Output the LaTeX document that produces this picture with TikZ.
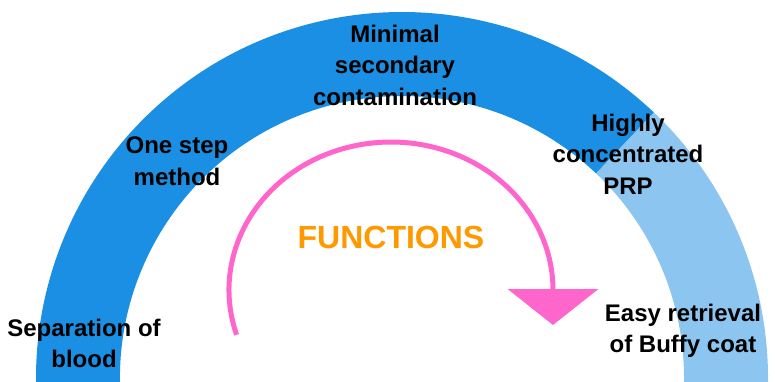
\documentclass[tikz,border=0pt]{standalone}
\usepackage{fontspec}
\setmainfont{Liberation Sans}
\usepackage{xcolor}
\usetikzlibrary{arrows.meta}

\definecolor{bandDark}{HTML}{1A8FE3}
\definecolor{bandLight}{HTML}{8DC5F1}
\definecolor{funPink}{HTML}{FF66CC}
\definecolor{funOrange}{HTML}{FF9900}

\begin{document}
\begin{tikzpicture}[x=1pt,y=1pt,>={Triangle[width=90pt,length=36pt]}]
        \tikzstyle{label}=[align=center,inner sep=0pt,text=black,font=\fontsize{24}{31.5}\selectfont\bfseries]
        \tikzstyle{title}=[inner sep=0pt,text=funOrange,font=\fontsize{32}{38}\selectfont\bfseries]

        \clip (0,0) rectangle (775,381);

        \coordinate (ctr) at (402,3);
        \coordinate (funCtr) at (391,91);

        % the band
        \fill[bandDark] ([shift={(46.5:366pt)}]ctr) arc[start angle=46.5, end angle=195, radius=366pt]
              -- ([shift={(195:282pt)}]ctr) arc[start angle=195, end angle=46.5, radius=282pt] -- cycle;
        \fill[bandLight] ([shift={(-15:366pt)}]ctr) arc[start angle=-15, end angle=46.5, radius=366pt]
              -- ([shift={(46.5:282pt)}]ctr) arc[start angle=46.5, end angle=-15, radius=282pt] -- cycle;

        % the arrow
        \coordinate (funStart) at ([shift={(197.6:162pt and 148pt)}]funCtr);
        \coordinate (funTip) at (553,56);
        \draw[->,funPink,line width=5pt] (funStart) arc[start angle=197.6, end angle=0, x radius=162pt, y radius=148pt] -- (funTip);

        \node[label] (minimal)    at (395,316)  {Minimal\\secondary\\contamination};
        \node[label] (onestep)    at (177,220)  {One step\\method};
        \node[label] (prp)        at (628,227)  {Highly\\concentrated\\PRP};
        \node[label] (buffy)      at (683,50)   {Easy retrieval\\of Buffy coat};
        \node[label] (separation) at (84,37.5)  {Separation of\\blood};
        \node[title] (functions)  at (391,143.5) {FUNCTIONS};
    \end{tikzpicture}
\end{document}
